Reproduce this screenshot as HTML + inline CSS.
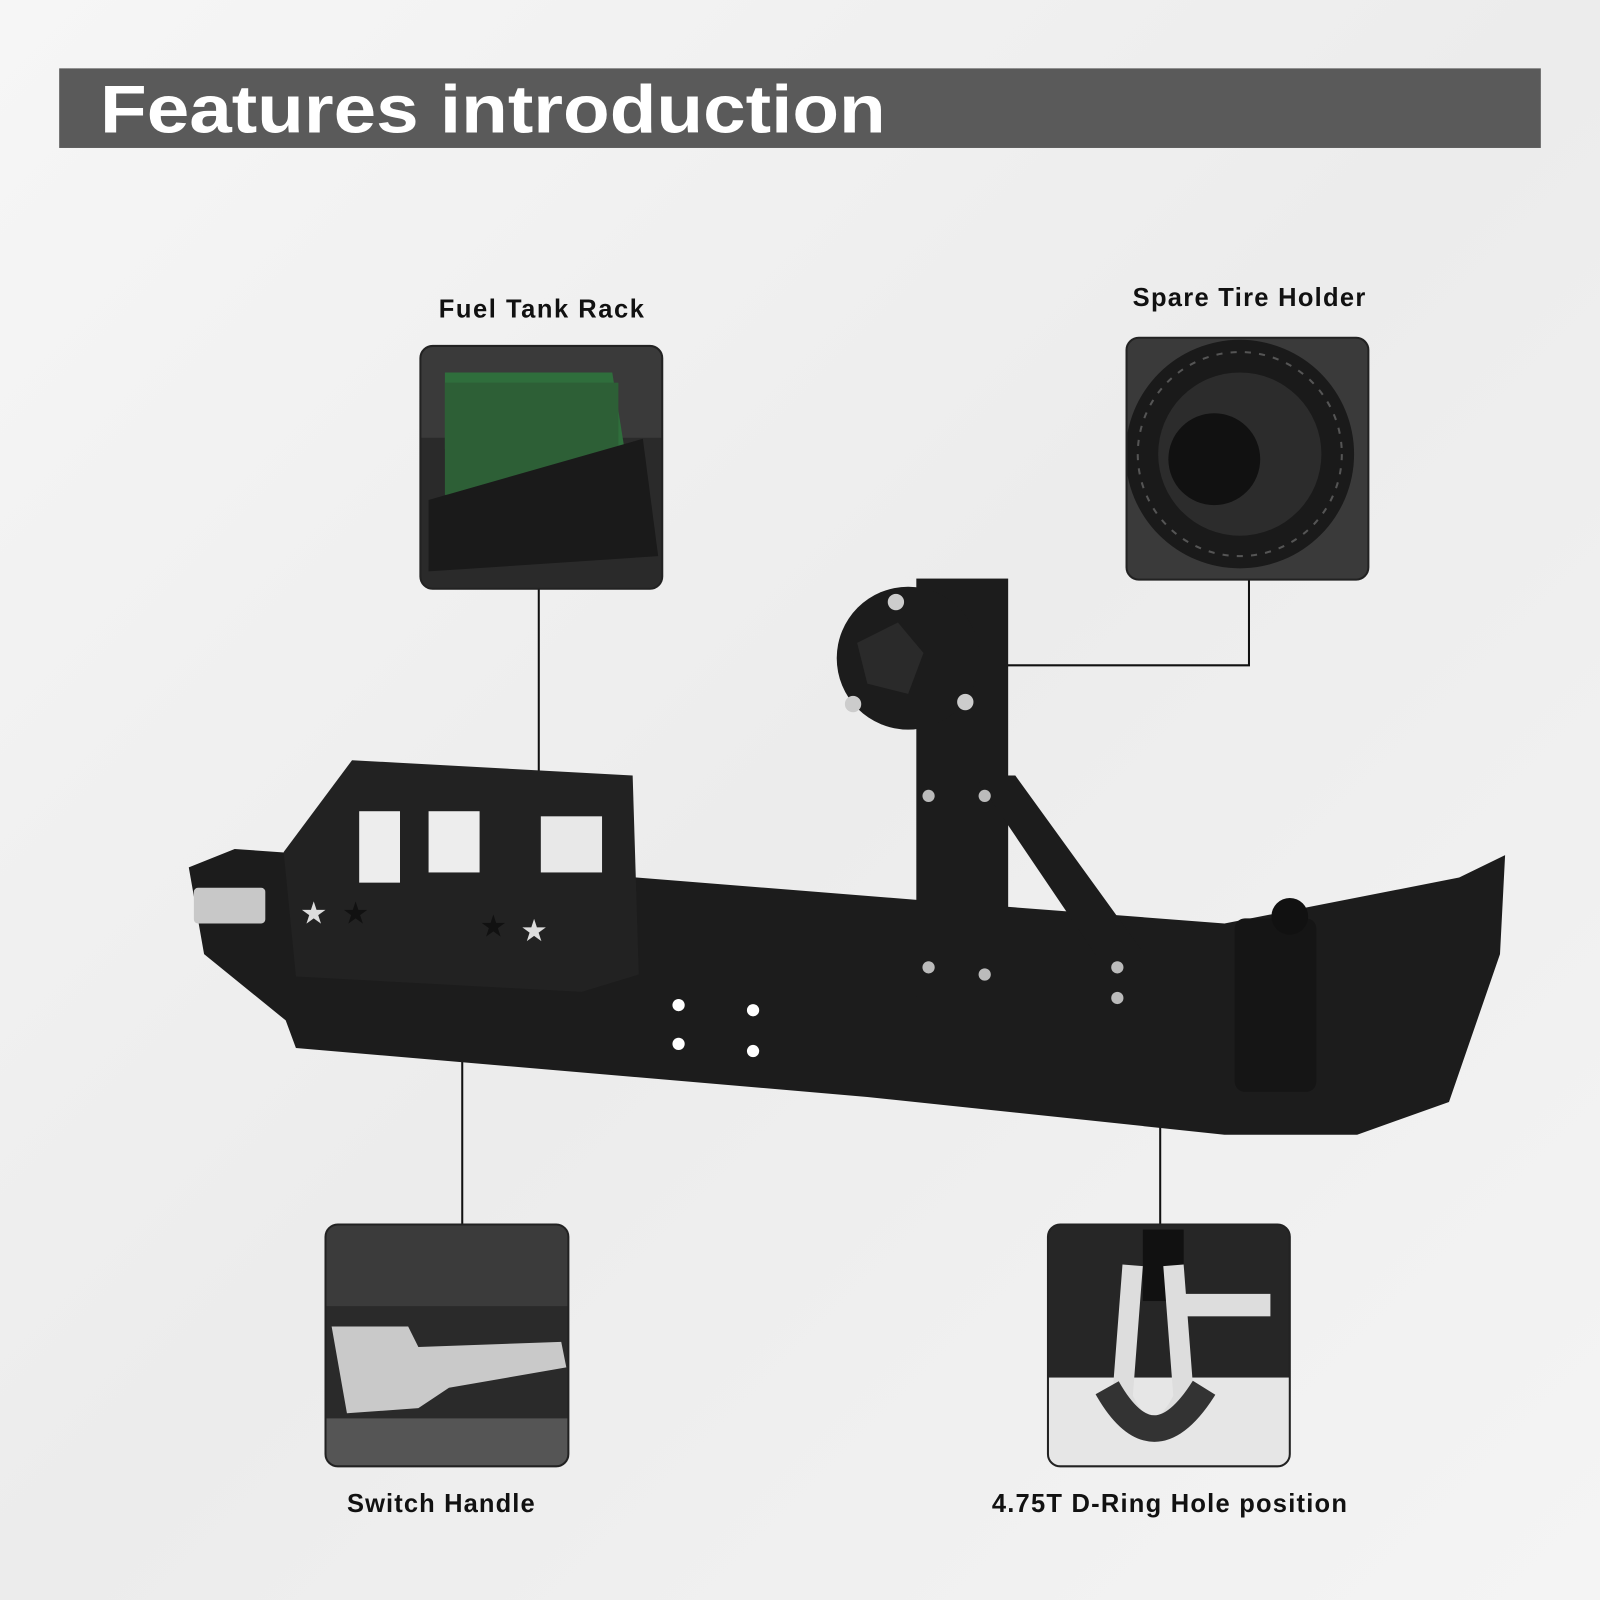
<!DOCTYPE html>
<html><head><meta charset="utf-8"><style>
html,body{margin:0;padding:0;background:#f2f2f2;}
svg{display:block}
</style></head><body>
<svg width="1600" height="1600" viewBox="0 0 1568 1568" xmlns="http://www.w3.org/2000/svg">
<defs>
<linearGradient id="bg" x1="0" y1="0" x2="1" y2="1">
<stop offset="0" stop-color="#f6f6f6"/><stop offset="0.5" stop-color="#ececec"/><stop offset="1" stop-color="#f4f4f4"/>
</linearGradient>
<clipPath id="c1"><rect x="412" y="339" width="237" height="238" rx="12"/></clipPath>
<clipPath id="c2"><rect x="1104" y="331" width="237" height="237" rx="12"/></clipPath>
<clipPath id="c3"><rect x="319" y="1200" width="238" height="237" rx="12"/></clipPath>
<clipPath id="c4"><rect x="1027" y="1200" width="237" height="237" rx="12"/></clipPath>
</defs>
<rect width="1568" height="1568" fill="url(#bg)"/>
<rect x="58" y="67" width="1452" height="78" fill="#5a5a5a"/>
<text x="98" y="130" font-family="Liberation Sans, sans-serif" font-weight="bold" font-size="66" fill="#fff" textLength="770" lengthAdjust="spacingAndGlyphs">Features introduction</text>

<g font-family="Liberation Sans, sans-serif" font-size="25" fill="#111" font-weight="bold" lengthAdjust="spacingAndGlyphs">
<text x="430" y="311" textLength="201">Fuel Tank Rack</text>
<text x="1110" y="300" textLength="228">Spare Tire Holder</text>
<text x="340" y="1482" textLength="184">Switch Handle</text>
<text x="972" y="1482" textLength="348">4.75T D-Ring Hole position</text>
</g>

<!-- connectors -->
<g stroke="#111" stroke-width="2" fill="none">
<line x1="528" y1="577" x2="528" y2="858"/>
<polyline points="1224,568 1224,652 985,652"/>
<line x1="453" y1="1005" x2="453" y2="1200"/>
<line x1="1137" y1="1095" x2="1137" y2="1200"/>
</g>

<!-- bumper -->
<g fill="#1c1c1c">
<polygon points="185,850 230,832 600,858 900,882 1200,905 1430,860 1475,838 1470,935 1420,1080 1330,1112 1200,1112 850,1075 290,1027 280,1000 200,935"/>
<polygon points="278,835 345,745 620,760 626,955 570,972 290,957" fill="#222"/>
<rect x="352" y="795" width="40" height="70" fill="#ededed"/>
<rect x="420" y="795" width="50" height="60" fill="#ededed"/>
<rect x="530" y="800" width="60" height="55" fill="#e8e8e8"/>
<rect x="898" y="567" width="90" height="410"/>
<polygon points="955,760 995,760 1118,930 1112,990 1080,990 1080,945"/>
<circle cx="890" cy="645" r="70"/>
<polygon points="840,630 880,610 905,640 890,680 850,670" fill="#2a2a2a"/>
<rect x="1210" y="900" width="80" height="170" rx="10" fill="#151515"/>
<circle cx="1264" cy="898" r="18" fill="#111"/>
</g>
<rect x="190" y="870" width="70" height="35" rx="4" fill="#c8c8c8"/>
<g fill="#fff">
<circle cx="665" cy="985" r="6"/><circle cx="738" cy="990" r="6"/><circle cx="665" cy="1023" r="6"/><circle cx="738" cy="1030" r="6"/>
<circle cx="910" cy="780" r="6" fill="#bbb"/><circle cx="965" cy="780" r="6" fill="#bbb"/>
<circle cx="910" cy="948" r="6" fill="#bbb"/><circle cx="965" cy="955" r="6" fill="#bbb"/>
<circle cx="1095" cy="948" r="6" fill="#bbb"/><circle cx="1095" cy="978" r="6" fill="#bbb"/>
<circle cx="836" cy="690" r="8" fill="#ccc"/><circle cx="946" cy="688" r="8" fill="#ccc"/><circle cx="878" cy="590" r="8" fill="#ccc"/>
</g>
<g fill="#ddd" font-size="30" font-family="DejaVu Sans, sans-serif"><text x="294" y="905">★</text><text x="335" y="905" fill="#111">★</text><text x="470" y="918" fill="#111">★</text><text x="510" y="922">★</text></g>

<!-- box 1 fuel -->
<g clip-path="url(#c1)">
<rect x="412" y="339" width="237" height="238" fill="#2a2a2a"/>
<rect x="412" y="339" width="237" height="90" fill="#3a3a3a"/>
<polygon points="436,365 600,365 612,440 436,440" fill="#2f6e3c"/>
<rect x="436" y="375" width="170" height="110" fill="#2d5f36"/>
<polygon points="420,490 630,430 645,545 420,560" fill="#1a1a1a"/>
</g>
<rect x="412" y="339" width="237" height="238" rx="12" fill="none" stroke="#222" stroke-width="2"/>

<!-- box 2 spare -->
<g clip-path="url(#c2)">
<rect x="1104" y="331" width="237" height="237" fill="#3a3a3a"/>
<circle cx="1215" cy="445" r="112" fill="#1a1a1a"/>
<circle cx="1215" cy="445" r="80" fill="#2c2c2c"/>
<circle cx="1190" cy="450" r="45" fill="#111"/>
<circle cx="1215" cy="445" r="100" fill="none" stroke="#555" stroke-width="2" stroke-dasharray="6 8"/>
</g>
<rect x="1104" y="331" width="237" height="237" rx="12" fill="none" stroke="#222" stroke-width="2"/>

<!-- box 3 switch -->
<g clip-path="url(#c3)">
<rect x="319" y="1200" width="238" height="237" fill="#2a2a2a"/>
<rect x="319" y="1200" width="238" height="80" fill="#3b3b3b"/>
<rect x="319" y="1390" width="238" height="47" fill="#555"/>
<polygon points="325,1300 400,1300 410,1320 550,1315 555,1340 440,1360 410,1380 340,1385" fill="#c9c9c9"/>
</g>
<rect x="319" y="1200" width="238" height="237" rx="12" fill="none" stroke="#222" stroke-width="2"/>

<!-- box 4 d-ring -->
<g clip-path="url(#c4)">
<rect x="1027" y="1200" width="237" height="237" fill="#262626"/>
<rect x="1027" y="1350" width="237" height="87" fill="#e6e6e6"/>
<rect x="1120" y="1205" width="40" height="70" fill="#111"/>
<path d="M1110,1240 L1100,1370 Q1130,1430 1160,1370 L1150,1240" fill="none" stroke="#ddd" stroke-width="20"/>
<path d="M1085,1360 Q1130,1440 1180,1360" fill="none" stroke="#333" stroke-width="26"/>
<rect x="1160" y="1268" width="85" height="22" fill="#ddd"/>
</g>
<rect x="1027" y="1200" width="237" height="237" rx="12" fill="none" stroke="#222" stroke-width="2"/>
</svg>
</body></html>
